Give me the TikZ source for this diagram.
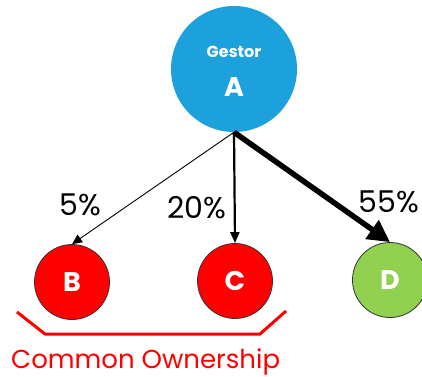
\documentclass[tikz,border=0pt]{standalone}
\usepackage{fontspec}
\setmainfont{Poppins}
\usetikzlibrary{arrows.meta}
\definecolor{gestorblue}{RGB}{29,161,221}
\definecolor{ownred}{RGB}{255,0,0}
\definecolor{dgreen}{RGB}{146,208,80}
\begin{document}
\begin{tikzpicture}[x=1pt, y=-1pt,
    firm/.style={circle, draw=black!80, line width=0.8pt, minimum size=75pt, inner sep=0pt,
        text=white, font=\bfseries\fontsize{27}{27}\selectfont},
    pct/.style={font=\fontsize{30}{30}\selectfont}]
        \useasboundingbox (0,0) rectangle (422,376);
        \clip (0,0) rectangle (422,376);

        % Gestore
        \node[circle, fill=gestorblue, minimum size=126pt, inner sep=0pt] (A) at (234,69) {};
        \node[text=white, font=\bfseries\fontsize{16}{16}\selectfont] (Ag) at (234,52) {Gestor};
        \node[text=white, font=\bfseries\fontsize{27}{27}\selectfont] (Al) at (234,87) {A};

        % Partecipate
        \node[firm, fill=ownred] (B) at (72,282) {B};
        \node[firm, fill=ownred] (C) at (235,281) {C};
        \node[firm, fill=dgreen] (D) at (390,280) {D};

        % Frecce
        \draw[-{Triangle[length=10pt, width=9pt]}, line width=0.9pt] (A.south) -- (B.north);
        \draw[-{Triangle[length=11pt, width=9pt]}, line width=2.2pt] (A.south) -- (C.north);
        \draw[-{Triangle[length=22pt, width=22pt]}, line width=5.5pt] (A.south) -- (D.north);

        % Percentuali
        \node[pct] (pB) at (80,205) {5\%};
        \node[pct] (pC) at (197,208) {20\%};
        \node[pct] (pD) at (389,202) {55\%};

        % Proprieta comune
        \coordinate (k1) at (17,312);
        \coordinate (k2) at (45,334);
        \coordinate (k3) at (260,334);
        \coordinate (k4) at (286,311);
        \draw[ownred, line width=3pt] (k1) -- (k2) -- (k3) -- (k4);
        \node[ownred, anchor=base west, font=\fontsize{26}{26}\selectfont, inner sep=0pt] (own) at (11,368) {Common Ownership};
    \end{tikzpicture}
\end{document}
